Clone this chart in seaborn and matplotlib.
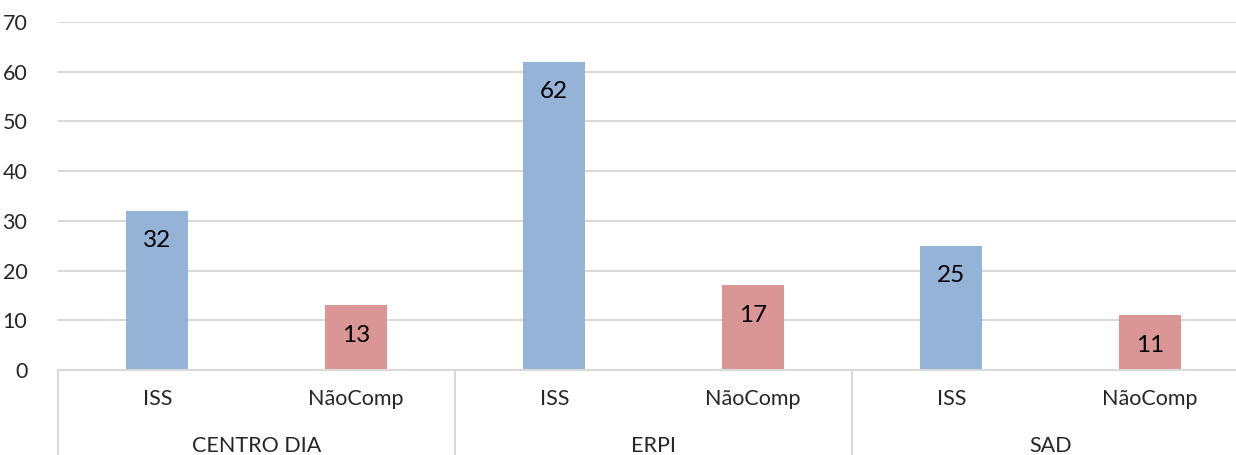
import matplotlib
matplotlib.use("Agg")
import matplotlib.pyplot as plt
import matplotlib.transforms as mtransforms
import pandas as pd
import seaborn as sns

groups = ["CENTRO DIA", "ERPI", "SAD"]
types = ["ISS", "NãoComp"]
values = [32, 13, 62, 17, 25, 11]
colors = {"ISS": "#95B3D7", "NãoComp": "#D99694"}

rows = []
i = 0
for g in groups:
    for t in types:
        rows.append({"slot": f"{g}|{t}", "group": g, "type": t, "value": values[i]})
        i += 1
df = pd.DataFrame(rows)

sns.set_style("white")
plt.rcParams["font.family"] = ["Lato", "DejaVu Sans"]

fig = plt.figure(figsize=(12.36, 4.55), dpi=100)
# plot area runs a little past the right edge, like the cropped original
ax = fig.add_axes([58 / 1236, 85 / 455, (1249 - 58) / 1236, 348 / 455])

sns.barplot(data=df, x="slot", y="value", hue="type", palette=colors,
            dodge=False, width=0.31, ax=ax, legend=False, saturation=1,
            linewidth=0)

ax.set_ylim(0, 70)
ax.set_xlim(-0.5, len(df) - 0.5)
ax.set_yticks(range(0, 71, 10))
ax.yaxis.grid(True, color="#D9D9D9", linewidth=1.5)
ax.set_axisbelow(True)
for s in ["left", "right", "top"]:
    ax.spines[s].set_visible(False)
ax.spines["bottom"].set_color("#D9D9D9")
ax.spines["bottom"].set_linewidth(1.5)
ax.tick_params(axis="y", length=0, labelsize=15.5, labelcolor="#262626", pad=22)
ax.set_xticks([])
ax.set_xlabel("")
ax.set_ylabel("")

# data labels inside bars
for idx, v in enumerate(df["value"]):
    ax.annotate(str(v), (idx, v), xytext=(0, -30), textcoords="offset pixels",
                ha="center", va="center", fontsize=17.5, color="black")

# two-level category axis
trans = mtransforms.blended_transform_factory(ax.transData, ax.transAxes)
for idx, t in enumerate(df["type"]):
    ax.text(idx, -29 / 348, t, transform=trans, ha="center", va="center",
            fontsize=15.5, color="#262626")
for gi, g in enumerate(groups):
    ax.text(gi * 2 + 0.5, -76 / 348, g, transform=trans, ha="center", va="center",
            fontsize=15.5, color="#262626")
for xb in [-0.5, 1.5, 3.5, 5.5]:
    ax.plot([xb, xb], [0, -0.3], transform=trans, color="#D9D9D9",
            linewidth=1.5, clip_on=False)

fig.savefig("out.png", dpi=100)
